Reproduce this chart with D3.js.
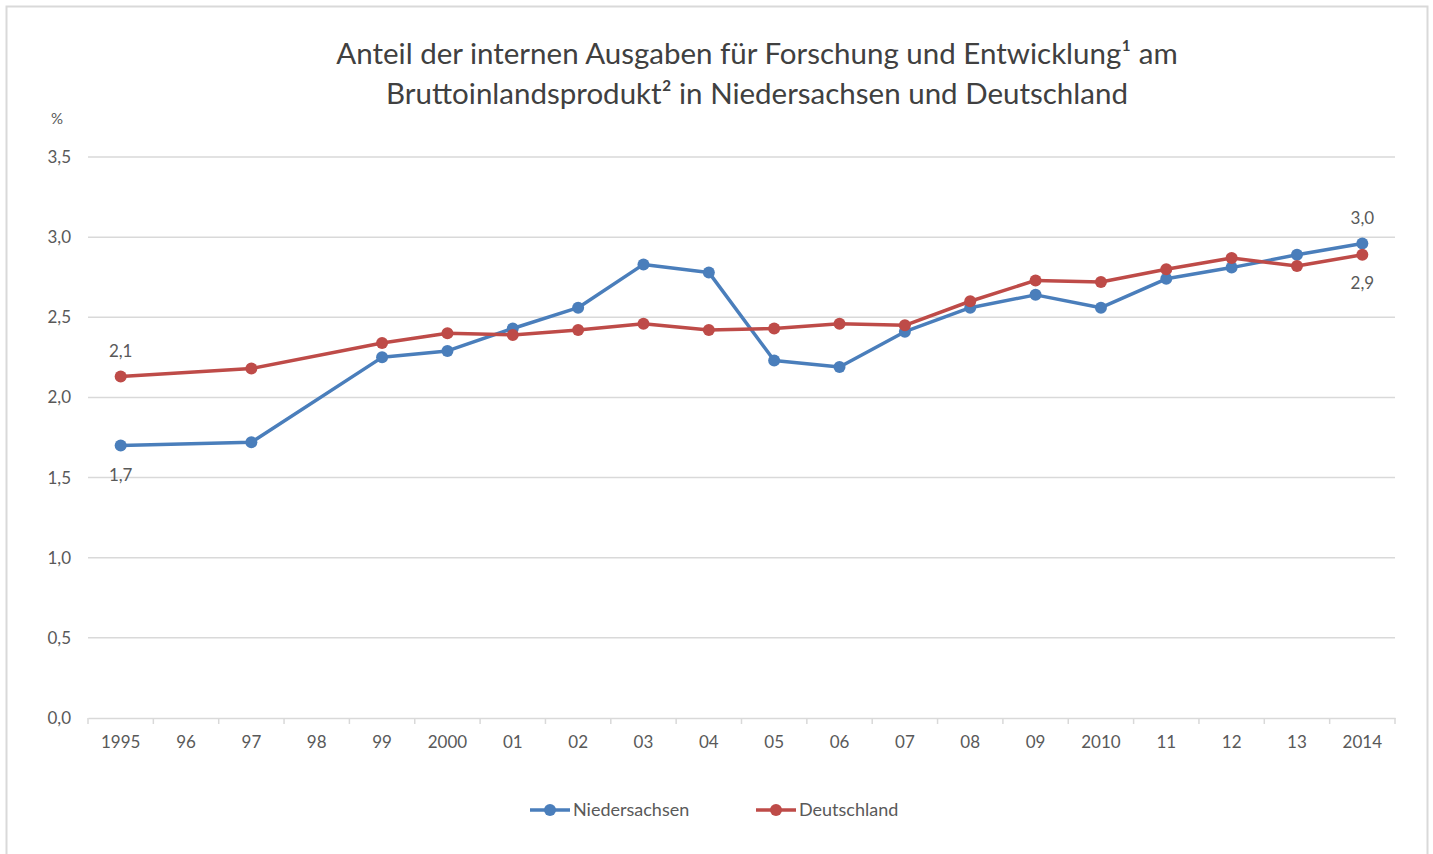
<!DOCTYPE html>
<html>
<head>
<meta charset="utf-8">
<script src="https://cdn.jsdelivr.net/npm/d3@7"></script>
<style>
	body { margin: 0; background: #fff; }
	text { font-family: Lato, "Open Sans", sans-serif; fill: #595959; }
</style>
</head>
<body>
<div id="chart"></div>
<script>
// categories on the x axis and their tick labels
var years = [1995, 1996, 1997, 1998, 1999, 2000, 2001, 2002, 2003, 2004, 2005, 2006, 2007, 2008, 2009, 2010, 2011, 2012, 2013, 2014];
var yearLabels = ["1995", "96", "97", "98", "99", "2000", "01", "02", "03", "04", "05", "06", "07", "08", "09", "2010", "11", "12", "13", "2014"];

// values in % (null = no value for that year)
var niedersachsen = [1.70, null, 1.72, null, 2.25, 2.29, 2.43, 2.56, 2.83, 2.78, 2.23, 2.19, 2.41, 2.56, 2.64, 2.56, 2.74, 2.81, 2.89, 2.96];
var deutschland = [2.13, null, 2.18, null, 2.34, 2.40, 2.39, 2.42, 2.46, 2.42, 2.43, 2.46, 2.45, 2.60, 2.73, 2.72, 2.80, 2.87, 2.82, 2.89];

var yTicks = [0, 0.5, 1.0, 1.5, 2.0, 2.5, 3.0, 3.5];

var seriesList = [
	{name: "Niedersachsen", values: niedersachsen, color: "#4a7ebb"},
	{name: "Deutschland", values: deutschland, color: "#be4b48"}
];

var width = 1433, height = 854;
var fmt = function(v) { return d3.format(".1f")(v).replace(".", ","); };

var svg = d3.select("#chart").append("svg")
	.attr("width", width)
	.attr("height", height);

// outer frame
svg.append("rect")
	.attr("x", 6.5).attr("y", 6.5)
	.attr("width", 1421).attr("height", 870)
	.style("fill", "none")
	.style("stroke", "#d9d9d9")
	.style("stroke-width", 2);

// title
var title = svg.append("text")
	.attr("text-anchor", "middle")
	.style("font-size", "29.5px")
	.style("fill", "#404040");
title.append("tspan").attr("x", 757).attr("y", 64)
	.text("Anteil der internen Ausgaben für Forschung und Entwicklung¹ am");
title.append("tspan").attr("x", 757).attr("y", 104)
	.text("Bruttoinlandsprodukt² in Niedersachsen und Deutschland");

var x = d3.scaleBand()
	.domain(years)
	.range([88, 1395]);

var y = d3.scaleLinear()
	.domain([0, 3.5])
	.range([718, 157]);

var cx = function(i) { return x(years[i]) + x.bandwidth() / 2; };

// gridlines
svg.append("g").selectAll("line")
	.data(yTicks.filter(function(d) { return d > 0; }))
	.enter().append("line")
		.attr("x1", 88).attr("x2", 1395)
		.attr("y1", function(d) { return y(d); })
		.attr("y2", function(d) { return y(d); })
		.style("stroke", "#d9d9d9")
		.style("stroke-width", 1.5);

// y axis labels
svg.append("g").selectAll("text")
	.data(yTicks)
	.enter().append("text")
		.attr("x", 71)
		.attr("y", function(d) { return y(d); })
		.attr("dy", ".35em")
		.attr("text-anchor", "end")
		.style("font-size", "17px")
		.text(fmt);

svg.append("text")
	.attr("x", 57).attr("y", 124)
	.attr("text-anchor", "middle")
	.style("font-size", "15px")
	.text("%");

// x axis with ticks at category boundaries
var xAxis = d3.axisBottom(x)
	.tickSize(0)
	.tickPadding(18)
	.tickFormat(function(d, i) { return yearLabels[i]; });

var gx = svg.append("g")
	.attr("transform", "translate(0," + y(0) + ")")
	.call(xAxis);
gx.select(".domain").style("stroke", "#d9d9d9").style("stroke-width", 1.5);
gx.selectAll("text").style("font-size", "17px").style("fill", "#595959")
	.style("font-family", "Lato, \"Open Sans\", sans-serif");

gx.append("g").selectAll("line")
	.data(years.concat(["end"]))
	.enter().append("line")
		.attr("x1", function(d, i) { return 88 + i * x.step(); })
		.attr("x2", function(d, i) { return 88 + i * x.step(); })
		.attr("y1", 0).attr("y2", 6)
		.style("stroke", "#d9d9d9")
		.style("stroke-width", 1.5);

// lines and markers
var line = d3.line()
	.x(function(d) { return cx(d.i); })
	.y(function(d) { return y(d.v); });

seriesList.forEach(function(s) {
	var pts = s.values.map(function(v, i) { return {i: i, v: v}; })
		.filter(function(d) { return d.v != null; });

	svg.append("path")
		.datum(pts)
		.attr("d", line)
		.style("fill", "none")
		.style("stroke", s.color)
		.style("stroke-width", 3.5)
		.style("stroke-linejoin", "round");

	svg.append("g").selectAll("circle")
		.data(pts)
		.enter().append("circle")
			.attr("cx", function(d) { return cx(d.i); })
			.attr("cy", function(d) { return y(d.v); })
			.attr("r", 6)
			.style("fill", s.color);
});

// data labels at the ends
var last = years.length - 1;
var labels = [
	{i: 0, v: deutschland[0], dy: -20},
	{i: 0, v: niedersachsen[0], dy: 35},
	{i: last, v: niedersachsen[last], dy: -20},
	{i: last, v: deutschland[last], dy: 34}
];
svg.append("g").selectAll("text")
	.data(labels)
	.enter().append("text")
		.attr("x", function(d) { return cx(d.i); })
		.attr("y", function(d) { return y(d.v) + d.dy; })
		.attr("text-anchor", "middle")
		.style("font-size", "17px")
		.text(function(d) { return fmt(d.v); });

// legend
var legend = svg.append("g").selectAll("g")
	.data(seriesList)
	.enter().append("g")
		.attr("transform", function(d, i) { return "translate(" + (530 + i * 226) + ",810)"; });
legend.append("line")
	.attr("x1", 0).attr("x2", 40)
	.style("stroke", function(d) { return d.color; })
	.style("stroke-width", 3.5);
legend.append("circle")
	.attr("cx", 20).attr("r", 6)
	.style("fill", function(d) { return d.color; });
legend.append("text")
	.attr("x", 43)
	.attr("dy", ".35em")
	.style("font-size", "18px")
	.text(function(d) { return d.name; });
</script>
</body>
</html>
